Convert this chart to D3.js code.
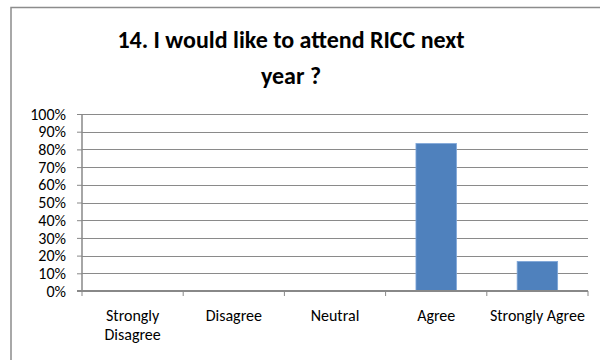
<!DOCTYPE html>
<html>
<head>
<meta charset="utf-8">
<script src="https://cdn.jsdelivr.net/npm/d3@7"></script>
<style>
  html, body { margin: 0; padding: 0; background: #fff; }
  svg { display: block; }
  text { font-family: Carlito, Calibri, "Open Sans", sans-serif; }
</style>
</head>
<body>
<svg id="chart" width="600" height="360"></svg>
<script>
// Survey responses, share of respondents
const categories = ["Strongly Disagree", "Disagree", "Neutral", "Agree", "Strongly Agree"];
const shares = [0, 0, 0, 0.833, 0.167];
const yTicks = [0, 0.1, 0.2, 0.3, 0.4, 0.5, 0.6, 0.7, 0.8, 0.9, 1.0];
const titleLines = ["14. I would like to attend RICC next", "year ?"];

const svg = d3.select("#chart");
const plot = { left: 82, right: 588, top: 114, bottom: 291 };

// chart frame
svg.append("rect")
  .attr("x", 11).attr("y", 7.5)
  .attr("width", 620).attr("height", 400)
  .attr("fill", "#fff")
  .attr("stroke", "#8c8c8c").attr("stroke-width", 1.5);

// title
svg.append("text")
  .attr("text-anchor", "middle")
  .attr("font-size", 24).attr("font-weight", "bold").attr("fill", "#000")
  .selectAll("tspan").data(titleLines).join("tspan")
  .attr("x", 291)
  .attr("y", (d, i) => 48 + i * 36)
  .text(d => d);

const x = d3.scaleBand().domain(categories).range([plot.left, plot.right]).paddingInner(0).paddingOuter(0);
const y = d3.scaleLinear().domain([0, 1]).range([plot.bottom, plot.top]);

// gridlines
svg.append("g")
  .selectAll("line").data(yTicks.filter(t => t > 0)).join("line")
  .attr("x1", plot.left).attr("x2", plot.right)
  .attr("y1", d => Math.round(y(d)) + 0.5).attr("y2", d => Math.round(y(d)) + 0.5)
  .attr("stroke", "#8a8a8a").attr("stroke-width", 1);

// bars
const barW = x.bandwidth() * 0.4;
svg.append("g")
  .selectAll("rect").data(categories.map((c, i) => ({ c, v: shares[i] })).filter(d => d.v > 0)).join("rect")
  .attr("x", d => x(d.c) + (x.bandwidth() - barW) / 2)
  .attr("y", d => y(d.v))
  .attr("width", barW)
  .attr("height", d => y(0) - y(d.v))
  .attr("fill", "#4f81bd")
  .attr("stroke", "#7ea6d8").attr("stroke-width", 0.8);

// y axis
const yAxis = svg.append("g")
  .attr("transform", `translate(${plot.left},0)`)
  .call(d3.axisLeft(y).tickValues(yTicks).tickFormat(d3.format(".0%")).tickSize(5).tickPadding(11));
yAxis.select(".domain").attr("stroke", "#888").attr("stroke-width", 1.5).attr("d", `M0,${plot.top}V${plot.bottom}`);
yAxis.selectAll(".tick line").attr("stroke", "#888");
yAxis.selectAll(".tick text").attr("font-size", 16).attr("fill", "#000")
  .style("font-family", "Carlito, Calibri, 'Open Sans', sans-serif");

// x axis with ticks at category boundaries
const xAxis = svg.append("g").attr("transform", `translate(0,${plot.bottom})`);
xAxis.append("line")
  .attr("x1", plot.left - 5).attr("x2", plot.right)
  .attr("stroke", "#888").attr("stroke-width", 2);
const bounds = categories.map(c => x(c)).concat([plot.right]);
xAxis.selectAll(".bt").data(bounds).join("line").attr("class", "bt")
  .attr("x1", d => d).attr("x2", d => d).attr("y1", 0).attr("y2", 5)
  .attr("stroke", "#888").attr("stroke-width", 1);

// category labels, wrapped where needed
const wrapMap = { "Strongly Disagree": ["Strongly", "Disagree"] };
xAxis.selectAll(".cl").data(categories).join("text").attr("class", "cl")
  .attr("text-anchor", "middle").attr("font-size", 16).attr("fill", "#000")
  .each(function (d) {
    const lines = wrapMap[d] || [d];
    d3.select(this).selectAll("tspan").data(lines).join("tspan")
      .attr("x", x(d) + x.bandwidth() / 2)
      .attr("y", (l, i) => 30 + i * 19)
      .text(l => l);
  });
</script>
</body>
</html>
